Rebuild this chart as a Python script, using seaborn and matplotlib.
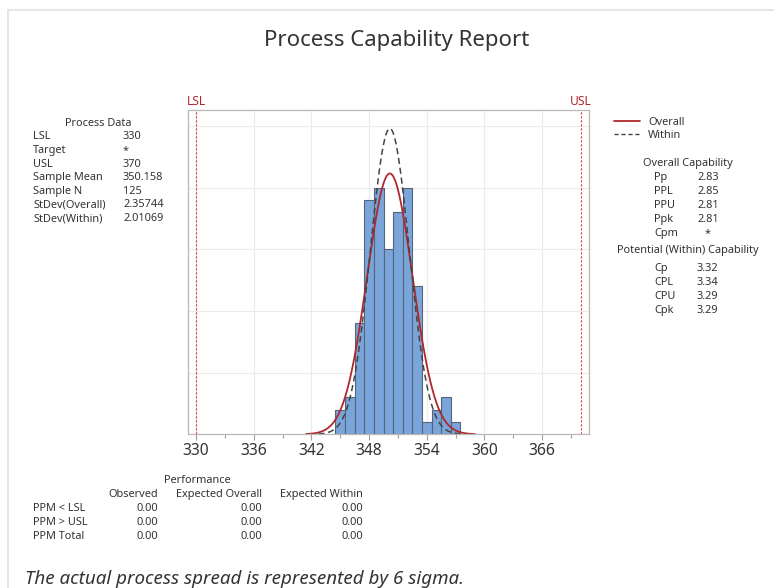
import numpy as np
import pandas as pd
import matplotlib
matplotlib.use("Agg")
import matplotlib.pyplot as plt
import seaborn as sns

# Process measurements, summarised as counts per unit-wide bin
bin_centers = [345, 346, 347, 348, 349, 350, 351, 352, 353, 354, 355, 356, 357]
bin_counts = [2, 3, 9, 19, 20, 15, 18, 20, 12, 1, 2, 3, 1]

lsl = 330
usl = 370
sample_mean = 350.158
sample_n = 125
sd_overall = 2.35744
sd_within = 2.01069

process_labels = ["LSL", "Target", "USL", "Sample Mean", "Sample N", "StDev(Overall)", "StDev(Within)"]
process_values = ["330", "*", "370", "350.158", "125", "2.35744", "2.01069"]

overall_labels = ["Pp", "PPL", "PPU", "Ppk", "Cpm"]
overall_values = ["2.83", "2.85", "2.81", "2.81", "*"]
within_labels = ["Cp", "CPL", "CPU", "Cpk"]
within_values = ["3.32", "3.34", "3.29", "3.29"]

perf_rows = ["PPM < LSL", "PPM > USL", "PPM Total"]
perf_cols = ["Observed", "Expected Overall", "Expected Within"]
perf_values = [["0.00", "0.00", "0.00"],
               ["0.00", "0.00", "0.00"],
               ["0.00", "0.00", "0.00"]]

x_ticks = [330, 336, 342, 348, 354, 360, 366]

W, H = 774, 588
sns.set_theme(style="white")
plt.rcParams["font.family"] = ["Noto Sans", "DejaVu Sans"]
TXT = "#333333"

fig = plt.figure(figsize=(W / 100, H / 100), dpi=100)


def px(x, y):
    return x / W, 1 - y / H


def ftext(x, y, s, fontsize=7.9, **kw):
    # y is the visual middle of capital letters; place the baseline below it
    kw.setdefault("color", TXT)
    base = y + 0.714 * fontsize * 100 / 72 / 2
    fig.text(*px(x, base), s, fontsize=fontsize, va="baseline", **kw)


# outer report frame
fig.add_artist(plt.Line2D([8 / W, 1], [1 - 10 / H, 1 - 10 / H], color="#e2e2e2", lw=1.2))
fig.add_artist(plt.Line2D([8 / W, 8 / W], [0, 1 - 10 / H], color="#e2e2e2", lw=1.2))

ax = fig.add_axes([188.3 / W, 1 - 434.3 / H, (589.3 - 188.3) / W, (434.3 - 110) / H])

data = pd.DataFrame({"value": np.repeat(bin_centers, bin_counts).astype(float)})
sns.histplot(data=data, x="value", binwidth=1, binrange=(344.5, 357.5),
             color="#7aa5da", edgecolor="#56647a", linewidth=0.8, alpha=1, ax=ax)

# fitted normal curves scaled to counts
def normal_counts(sd, lo_k=3.7, hi_k=3.75):
    xs = np.linspace(sample_mean - lo_k * sd, sample_mean + hi_k * sd, 400)
    ys = sample_n * 1.0 / (sd * np.sqrt(2 * np.pi)) * np.exp(-0.5 * ((xs - sample_mean) / sd) ** 2)
    return pd.DataFrame({"x": xs, "y": ys})

ov = normal_counts(sd_overall)
wi = normal_counts(sd_within)
sns.lineplot(data=ov, x="x", y="y", color="#b0282e", lw=1.3, ax=ax)
sns.lineplot(data=wi, x="x", y="y", color="#444444", lw=1.1, ax=ax, linestyle=(0, (4, 2.5)))

for v in (lsl, usl):
    ax.axvline(v, color="#e8383d", lw=0.8, linestyle=(0, (2, 1.6)), zorder=2)

ax.set_xlim(329.2, 370.9)
ax.set_ylim(0, 26.3)
ax.set_xticks(x_ticks)
ax.set_xticks([333, 339, 345, 351, 357, 363, 369], minor=True)
ax.set_yticks([0, 5, 10, 15, 20, 25])
ax.set_yticklabels([])
ax.set_xlabel("")
ax.set_ylabel("")
ax.grid(True, which="major", color="#ebebeb", lw=0.8)
ax.set_axisbelow(True)
ax.tick_params(axis="x", which="major", length=4, width=0.8, color="#a0a0a0",
               labelsize=11.2, labelcolor=TXT, pad=2.5, bottom=True)
ax.tick_params(axis="x", which="minor", length=3, width=0.8, color="#a0a0a0", bottom=True)
ax.tick_params(axis="y", length=0)
for sp in ax.spines.values():
    sp.set_color("#b8b8b8")
    sp.set_linewidth(0.9)

# title and specification labels
ftext(397, 38, "Process Capability Report", fontsize=16, ha="center")
ftext(196, 101, "LSL", fontsize=8.7, ha="center", color="#b0282e")
ftext(581, 101, "USL", fontsize=8.7, ha="center", color="#b0282e")

# process data block
ftext(98, 122, "Process Data", ha="center")
for i, (lab, val) in enumerate(zip(process_labels, process_values)):
    y = 135.5 + i * 13.6
    ftext(33, y, lab, ha="left")
    ftext(123, y, val, ha="left")

# legend
fig.add_artist(plt.Line2D([614 / W, 640 / W], [1 - 121 / H] * 2, color="#b0282e", lw=1.3))
fig.add_artist(plt.Line2D([614 / W, 640 / W], [1 - 134 / H] * 2, color="#444444", lw=1.0,
                          linestyle=(0, (3, 2))))
ftext(648, 121, "Overall", ha="left")
ftext(648, 134, "Within", ha="left")

# capability indices
ftext(688, 162, "Overall Capability", ha="center")
for i, (lab, val) in enumerate(zip(overall_labels, overall_values)):
    y = 176 + i * 14
    ftext(654, y, lab, ha="left")
    ftext(697 if val != "*" else 705, y, val, ha="left")
ftext(688, 249, "Potential (Within) Capability", ha="center")
for i, (lab, val) in enumerate(zip(within_labels, within_values)):
    y = 267 + i * 14
    ftext(654, y, lab, ha="left")
    ftext(697, y, val, ha="left")

# performance table
ftext(197, 479, "Performance", ha="center")
col_right = [158, 262, 363]
for c, name in zip(col_right, perf_cols):
    ftext(c, 493, name, ha="right")
for r, (row, vals) in enumerate(zip(perf_rows, perf_values)):
    y = 507 + r * 14
    ftext(33, y, row, ha="left")
    for c, v in zip(col_right, vals):
        ftext(c, y, v, ha="right")

ftext(25, 577, "The actual process spread is represented by 6 sigma.",
      fontsize=13.5, style="italic", ha="left")

fig.savefig("out.png", dpi=100)
